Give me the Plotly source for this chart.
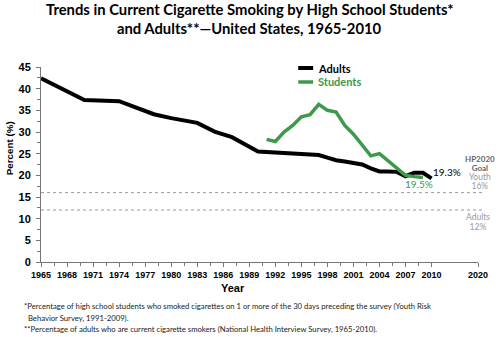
import plotly.graph_objects as go

# ---- data ----
adult_years = [1965, 1970, 1974, 1978, 1980, 1983, 1985, 1987, 1990, 1992, 1994, 1995,
               1997, 1998, 1999, 2000, 2001, 2002, 2003, 2004, 2005, 2006, 2007, 2008, 2009, 2010]
adult_vals = [42.4, 37.4, 37.1, 34.1, 33.2, 32.1, 30.1, 28.8, 25.5, 25.3, 25.0, 24.8,
              24.7, 24.1, 23.5, 23.2, 22.8, 22.5, 21.6, 20.9, 20.9, 20.8, 19.8, 20.6, 20.6, 19.3]

student_years = list(range(1991, 2010))
student_vals = [28.3, 27.8, 30.0, 31.5, 33.5, 34.0, 36.4, 35.0, 34.6, 31.5, 29.5, 27.0,
                24.5, 25.0, 23.3, 21.7, 20.0, 19.7, 19.5]

goal_youth = 16
goal_adults = 12

tick_years = list(range(1965, 2011, 3))
tick_labels = [str(y) for y in tick_years]
goal_year_label = "2020"
goal_year_pos = 2015.35  # compressed axis position for 2020

footnotes = [
    "*Percentage of high school students who smoked cigarettes on 1 or more of the 30 days preceding the survey (Youth Risk",
    "&nbsp;&nbsp;Behavior Survey, 1991-2009).",
    "**Percentage of adults who are current cigarette smokers (National Health Interview Survey, 1965-2010).",
]

GREEN = "#3c9a4a"
W, H = 500, 337
L, R, T, B = 41, 19, 67, 75
PW, PH = W - L - R, H - T - B


def px(x):
    return (x - L) / PW


def py(y):
    return (H - B - y) / PH


fig = go.Figure()
fig.add_trace(go.Scatter(x=adult_years, y=adult_vals, mode="lines", name="Adults",
                         line=dict(color="black", width=4)))
fig.add_trace(go.Scatter(x=student_years, y=student_vals, mode="lines", name="Students",
                         line=dict(color=GREEN, width=3.5)))

# goal dotted lines
for v in (goal_youth, goal_adults):
    fig.add_shape(type="line", xref="paper", yref="y", x0=0, x1=px(488), y0=v, y1=v,
                  line=dict(color="#9a9a9a", width=1, dash="dot"))

# custom legend samples
for name, col, wy in [("Adults", "black", 68), ("Students", GREEN, 82)]:
    fig.add_shape(type="line", xref="paper", yref="paper", x0=px(300), x1=px(315),
                  y0=py(wy), y1=py(wy), line=dict(color=col, width=4 if col == "black" else 3.5))

minor_x = [y + 1.5 for y in tick_years[:-1]]

fig.update_layout(
    width=W, height=H,
    margin=dict(l=L, r=R, t=T, b=B),
    paper_bgcolor="white", plot_bgcolor="white",
    showlegend=False,
    xaxis=dict(range=[1965, goal_year_pos], showgrid=False, zeroline=False,
               showline=True, linecolor="#777", linewidth=1,
               tickmode="array", tickvals=tick_years + [goal_year_pos],
               ticktext=tick_labels + [goal_year_label],
               ticks="outside", ticklen=4, tickcolor="#777",
               tickfont=dict(family="Liberation Sans", size=9, color="black", weight="bold"),
               minor=dict(tickmode="array", tickvals=minor_x, ticks="outside", ticklen=3, tickcolor="#777")),
    yaxis=dict(range=[0, 45], showgrid=False, zeroline=False,
               showline=True, linecolor="#777", linewidth=1,
               tickmode="array", tickvals=list(range(0, 46, 5)),
               ticks="outside", ticklen=4, tickcolor="#777", ticklabelstandoff=3,
               tickfont=dict(family="Liberation Sans", size=11, color="black", weight="bold"),
               minor=dict(dtick=2.5, ticks="outside", ticklen=3, tickcolor="#777")),
)

ann = []
# title
ann.append(dict(text="Trends in Current Cigarette Smoking by High School Students*",
                xref="paper", yref="paper", x=px(251), y=py(9.5), showarrow=False,
                xanchor="center", yanchor="middle",
                font=dict(family="Lato", size=14.8, color="black", weight="bold")))
ann.append(dict(text="and Adults**\u2014United States, 1965-2010",
                xref="paper", yref="paper", x=px(251), y=py(27.5), showarrow=False,
                xanchor="center", yanchor="middle",
                font=dict(family="Lato", size=14.8, color="black", weight="bold")))
# legend text
for name, wy in [("Adults", 68), ("Students", 82)]:
    ann.append(dict(text=name, xref="paper", yref="paper", x=px(318), y=py(wy),
                    showarrow=False, xanchor="left", yanchor="middle",
                    font=dict(family="Lato", size=11,
                              color="black" if name == "Adults" else GREEN, weight="bold")))
# axis titles
ann.append(dict(text="<b>Percent (%)</b>", xref="paper", yref="paper", x=px(9),
                y=py(148), textangle=-90, showarrow=False,
                font=dict(family="Arial", size=9.8, color="black"),
                xanchor="center", yanchor="middle"))
ann.append(dict(text="<b>Year</b>", xref="paper", yref="paper", x=px(234),
                y=py(288), showarrow=False,
                font=dict(family="Arial", size=11, color="black"),
                xanchor="center", yanchor="middle"))
# end labels
ann.append(dict(text=f"{adult_vals[-1]}%", x=adult_years[-1], y=adult_vals[-1], xref="x", yref="y",
                showarrow=False, xanchor="left", yanchor="middle", yshift=6, xshift=-1,
                font=dict(family="Lato", size=10, color="black")))
ann.append(dict(text=f"{student_vals[-1]}%", x=student_years[-1], y=student_vals[-1], xref="x", yref="y",
                showarrow=False, xanchor="center", yanchor="middle", yshift=-6, xshift=-4,
                font=dict(family="Lato", size=10, color=GREEN)))
# HP2020 goal labels
goal_block = ("<b><span style='font-size:8px;color:#666'>HP2020</span></b><br>"
              "<b><span style='font-size:8px;color:#666'>Goal</span></b><br>"
              "<span style='font-size:8.5px;color:#999'>Youth</span><br>"
              f"<span style='font-size:8.5px;color:#999'>{goal_youth}%</span>")
ann.append(dict(text=goal_block, xref="paper", yref="paper", x=px(483), y=py(172),
                showarrow=False, xanchor="center", yanchor="middle", align="center",
                font=dict(family="Lato", size=6.8, color="#999")))
adult_block = ("<span style='font-size:8.5px'>Adults</span><br>"
               f"<span style='font-size:8.5px'>{goal_adults}%</span>")
ann.append(dict(text=adult_block, xref="paper", yref="paper", x=px(481), y=py(221.5),
                showarrow=False, xanchor="center", yanchor="middle", align="center",
                font=dict(family="Lato", size=7.7, color="#999")))
# footnotes
for i, line in enumerate(footnotes):
    ann.append(dict(text=line, xref="paper", yref="paper", x=px(22), y=py([306, 317.5, 329][i]),
                    showarrow=False, xanchor="left", yanchor="middle", align="left",
                    font=dict(family="Lato", size=7.7, color="#222")))
fig.update_layout(annotations=ann)

fig.write_html("out.html")
